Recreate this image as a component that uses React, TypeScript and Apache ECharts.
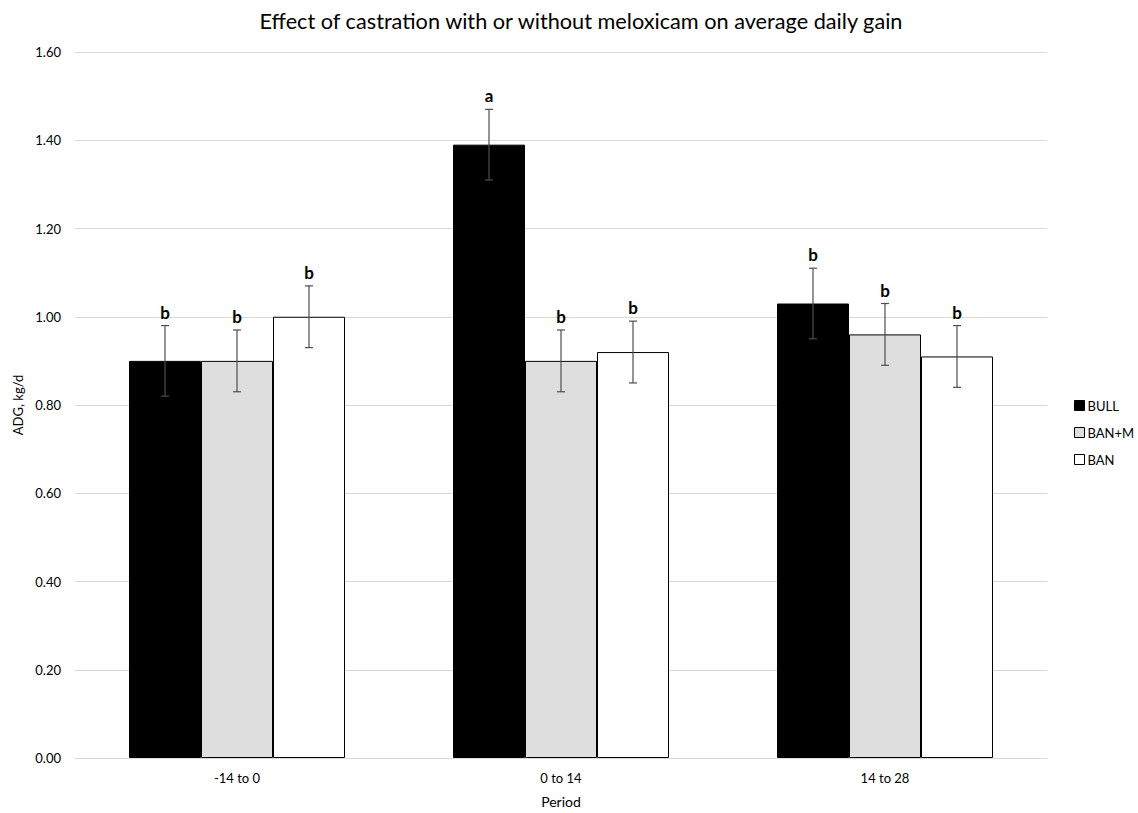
import React, { useEffect, useRef } from "react";
import * as echarts from "echarts";

const categories = ["-14 to 0", "0 to 14", "14 to 28"];
const seriesNames = ["BULL", "BAN+M", "BAN"];
const bull = [0.9, 1.39, 1.03];
const banM = [0.9, 0.9, 0.96];
const ban = [1.0, 0.92, 0.91];
const bullErr = [0.08, 0.08, 0.08];
const banMErr = [0.07, 0.07, 0.07];
const banErr = [0.07, 0.07, 0.07];
const bullLetters = ["b", "a", "b"];
const banMLetters = ["b", "b", "b"];
const banLetters = ["b", "b", "b"];
const colors = ["#000000", "#dedede", "#ffffff"];

const FONT = "Lato, 'Open Sans', sans-serif";

export default function App() {
  const ref = useRef<HTMLDivElement>(null);
  useEffect(() => {
    if (!ref.current) return;
    const chart = echarts.init(ref.current, undefined, { renderer: "svg" });
    const values = [bull, banM, ban];
    const errs = [bullErr, banMErr, banErr];
    const letters = [bullLetters, banMLetters, banLetters];
    const BAR_W = 72;

    const barSeries = seriesNames.map((name, i) => ({
      name,
      type: "bar",
      data: values[i],
      barWidth: BAR_W,
      barGap: "0%",
      itemStyle: { color: colors[i], borderColor: "#000", borderWidth: 1 },
      z: 2,
    }));

    const errSeries = seriesNames.map((name, i) => ({
      name: name + "_err",
      type: "custom",
      z: 5,
      data: values[i].map((v, k) => [k, v, errs[i][k]]),
      renderItem: (params: any, api: any) => {
        const k = api.value(0);
        const v = api.value(1);
        const e = api.value(2);
        const idx = params.dataIndex;
        const letter = letters[i][idx];
        const c = api.coord([k, v]);
        const offset = (i - 1) * BAR_W;
        const x = c[0] + offset;
        const top = api.coord([k, v + e])[1];
        const bot = api.coord([k, v - e])[1];
        const cap = 4;
        const st = { stroke: "#4d4d4d", lineWidth: 1.2 };
        return {
          type: "group",
          children: [
            { type: "line", shape: { x1: x, y1: top, x2: x, y2: bot }, style: st },
            { type: "line", shape: { x1: x - cap, y1: top, x2: x + cap, y2: top }, style: st },
            { type: "line", shape: { x1: x - cap, y1: bot, x2: x + cap, y2: bot }, style: st },
            {
              type: "text",
              style: {
                text: letter,
                x: x,
                y: top - 5,
                align: "center",
                verticalAlign: "bottom",
                fontSize: 17,
                fontWeight: "bold",
                fontFamily: FONT,
                fill: "#000",
              },
            },
          ],
        };
      },
    }));

    chart.setOption({
      animation: false,
      backgroundColor: "#fff",
      textStyle: { fontFamily: FONT },
      title: {
        text: "Effect of castration with or without meloxicam on average daily gain",
        left: 576,
        textAlign: "center",
        top: 5,
        textStyle: { fontSize: 21.7, fontWeight: "normal", color: "#000", fontFamily: FONT },
      },
      legend: {
        orient: "vertical",
        left: 1069,
        top: 394,
        itemWidth: 10,
        itemHeight: 10,
        itemGap: 14,
        icon: "rect",
        data: seriesNames.map((n, i) => ({
          name: n,
          itemStyle: { color: colors[i], borderColor: "#000", borderWidth: 1 },
        })),
        textStyle: { fontSize: 13, color: "#000", fontFamily: FONT, padding: [0, 0, 0, -2] },
      },
      grid: { left: 75, right: 91, top: 52, bottom: 42, containLabel: false },
      xAxis: {
        type: "category",
        data: categories,
        name: "Period",
        nameLocation: "middle",
        nameGap: 36,
        nameTextStyle: { fontSize: 14, color: "#000", fontFamily: FONT },
        axisLine: { lineStyle: { color: "#d9d9d9", width: 1 } },
        axisTick: { show: false },
        axisLabel: { fontSize: 13, color: "#000", margin: 13, fontFamily: FONT },
      },
      yAxis: {
        type: "value",
        min: 0,
        max: 1.6,
        interval: 0.2,
        name: "ADG, kg/d",
        nameLocation: "middle",
        nameGap: 50,
        nameTextStyle: { fontSize: 13, color: "#000", fontFamily: FONT },
        axisLine: { show: false },
        axisTick: { show: false },
        splitLine: { lineStyle: { color: "#d9d9d9", width: 1 } },
        axisLabel: {
          fontSize: 13,
          color: "#000",
          margin: 14,
          fontFamily: FONT,
          formatter: (v: number) => v.toFixed(2),
        },
      },
      series: [...barSeries, ...errSeries],
    });
    return () => chart.dispose();
  }, []);
  return <div ref={ref} style={{ width: 1138, height: 813, position: "absolute", left: 0, top: 0 }} />;
}
